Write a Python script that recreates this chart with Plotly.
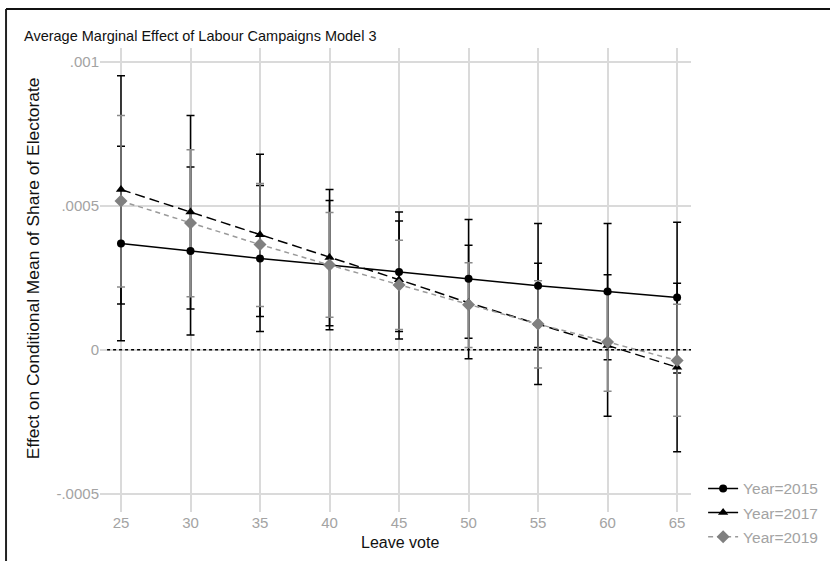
import plotly.graph_objects as go

leave = [25, 30, 35, 40, 45, 50, 55, 60, 65]

est_2015 = [0.000369, 0.000343, 0.000317, 0.000294, 0.000270, 0.000246, 0.000222, 0.000202, 0.000181]
lo_2015 = [0.000031, 0.000051, 0.000063, 0.000069, 0.000063, 0.000040, 0.000008, -0.000035, -0.000081]
hi_2015 = [0.000706, 0.000634, 0.000570, 0.000518, 0.000478, 0.000452, 0.000438, 0.000438, 0.000442]

est_2017 = [0.000556, 0.000478, 0.000399, 0.000320, 0.000243, 0.000163, 0.000090, 0.000015, -0.000061]
lo_2017 = [0.000159, 0.000141, 0.000115, 0.000083, 0.000037, -0.000031, -0.000121, -0.000231, -0.000354]
hi_2017 = [0.000951, 0.000813, 0.000678, 0.000556, 0.000447, 0.000363, 0.000300, 0.000260, 0.000231]

est_2019 = [0.000516, 0.000440, 0.000365, 0.000294, 0.000225, 0.000156, 0.000089, 0.000027, -0.000037]
lo_2019 = [0.000218, 0.000184, 0.000150, 0.000113, 0.000070, 0.000008, -0.000063, -0.000144, -0.000231]
hi_2019 = [0.000813, 0.000694, 0.000577, 0.000476, 0.000380, 0.000302, 0.000239, 0.000198, 0.000158]

y_tickvals = [-0.0005, 0, 0.0005, 0.001]
y_ticktext = ["-.0005", "0", ".0005", ".001"]

FONT = "Liberation Sans, Arial, sans-serif"
TICKC = "#a3a3a3"
GRIDC = "#dadada"

# name, est, lo, hi, errcolor, linecolor, markercolor, dash, legend dash, symbol, size
series = [
    ("Year=2015", est_2015, lo_2015, hi_2015, "#000000", "#000000", "#000000", "solid", "solid", "circle", 8),
    ("Year=2017", est_2017, lo_2017, hi_2017, "#000000", "#000000", "#000000", "10px,5px", "solid", "triangle-up", 9),
    ("Year=2019", est_2019, lo_2019, hi_2019, "#8a8a8a", "#9a9a9a", "#808080", "5px,4px", "5px,4px", "diamond", 10),
]

fig = go.Figure()

# confidence intervals first (under all lines/markers)
for name, est, lo, hi, ecol, lcol, mcol, dash, ldash, sym, msz in series:
    fig.add_trace(go.Scatter(
        x=leave, y=est, mode="markers",
        marker=dict(size=1, color="rgba(0,0,0,0)"),
        error_y=dict(type="data", symmetric=False,
                     array=[h - e for h, e in zip(hi, est)],
                     arrayminus=[e - l for e, l in zip(est, lo)],
                     color=ecol, thickness=1.5, width=4),
        showlegend=False, hoverinfo="skip"))

for i, (name, est, lo, hi, ecol, lcol, mcol, dash, ldash, sym, msz) in enumerate(series):
    fig.add_trace(go.Scatter(
        x=leave, y=est, mode="lines+markers", name=name,
        legendgroup=f"g{i}", showlegend=False,
        line=dict(color=lcol, width=1.5, dash=dash),
        marker=dict(symbol=sym, size=msz, color=mcol)))

# legend keys
for i, (name, est, lo, hi, ecol, lcol, mcol, dash, ldash, sym, msz) in enumerate(series):
    fig.add_trace(go.Scatter(
        x=[None], y=[None], mode="lines+markers", name=name,
        legendgroup=f"g{i}", showlegend=True,
        line=dict(color=lcol, width=1.5, dash=ldash),
        marker=dict(symbol=sym, size=msz, color=mcol)))

fig.add_shape(type="line", xref="x", yref="y", x0=24.0, x1=66.0, y0=0, y1=0,
              line=dict(color="black", width=1.5, dash="3px,3px"), layer="above")

# cropped frame of the original image
fig.add_shape(type="line", xref="paper", yref="paper", x0=-0.159, x1=-0.159, y0=1.084, y1=-0.2,
              line=dict(color="#222222", width=2))
fig.add_shape(type="line", xref="paper", yref="paper", x0=-0.159, x1=1.3, y0=1.084, y1=1.084,
              line=dict(color="#111111", width=2))

fig.add_annotation(text="Average Marginal Effect of Labour Campaigns Model 3",
                   xref="paper", yref="paper", x=-0.132, y=1.026, xanchor="left", yanchor="middle",
                   showarrow=False, font=dict(family=FONT, size=14.5, color="#111111"))

fig.add_annotation(text="Effect on Conditional Mean of Share of Electorate",
                   xref="paper", yref="paper", x=-0.113, y=0.526, xanchor="center", yanchor="middle",
                   textangle=-90, showarrow=False, font=dict(family=FONT, size=17.4, color="#111111"))

fig.add_annotation(text="Leave vote",
                   xref="paper", yref="paper", x=0.507, y=-0.066, xanchor="center", yanchor="middle",
                   showarrow=False, font=dict(family=FONT, size=16, color="#111111"))

fig.update_layout(
    width=830, height=561,
    margin=dict(l=100, r=139, t=48, b=49, autoexpand=False),
    paper_bgcolor="white", plot_bgcolor="white",
    font=dict(family=FONT, size=15, color=TICKC),
    showlegend=True,
    legend=dict(x=1.0205, y=0.0866, xanchor="left", yanchor="top",
                font=dict(family=FONT, size=15.5, color=TICKC),
                tracegroupgap=1, bgcolor="rgba(0,0,0,0)"),
    xaxis=dict(range=[23.49, 66.0], tickvals=leave, showgrid=True, gridcolor=GRIDC, gridwidth=1.5,
               zeroline=False, showline=False, ticks="", tickfont=dict(color=TICKC, size=15),
               automargin=False),
    yaxis=dict(range=[-0.000563, 0.001047], tickvals=y_tickvals, ticktext=y_ticktext,
               showgrid=True, gridcolor=GRIDC, gridwidth=1.5, zeroline=False, showline=False,
               ticks="", tickfont=dict(color=TICKC, size=15), automargin=False),
)

fig.write_html("out.html")
